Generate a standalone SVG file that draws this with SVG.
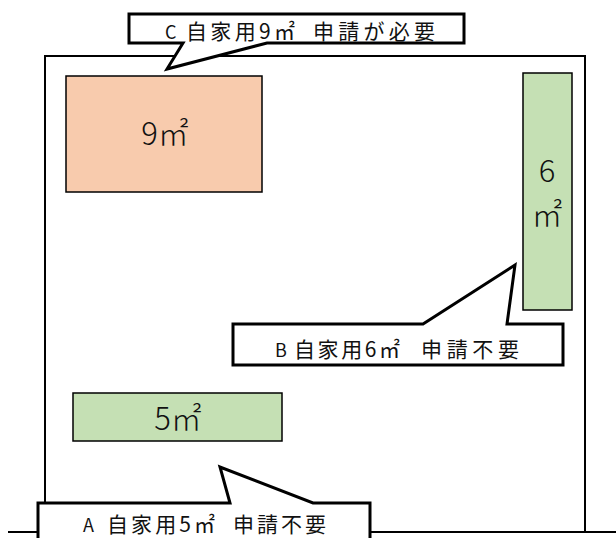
<svg xmlns="http://www.w3.org/2000/svg" width="616" height="538" viewBox="0 0 616 538">
<style>
.frame{fill:none;stroke:#000;stroke-width:2}
.call{fill:#fff;stroke:#000;stroke-width:3;stroke-linejoin:miter}
.area{stroke:#000;stroke-width:1.5}
.t{font-family:"Noto Sans CJK JP","Noto Sans",sans-serif;fill:#111}
.lbl{font-size:21px}
.lat{font-size:18px}
.big{font-size:31px;font-weight:300}
</style>
<rect width="616" height="538" fill="#fff"/>
<g id="frame">
<path class="frame" d="M45,532 V56 H585 V533"/>
<path class="frame" d="M8,532 H616"/>
</g>
<g id="area-c">
<rect class="area" x="66" y="76" width="196" height="116" fill="#F8CBAD"/>
<text class="t big" x="165" y="145" text-anchor="middle">9㎡</text>
</g>
<g id="area-b">
<rect class="area" x="523" y="73" width="49" height="237" fill="#C5E0B4"/>
<text class="t big" x="547" y="182" text-anchor="middle">6</text>
<text class="t big" x="547" y="226" text-anchor="middle">㎡</text>
</g>
<g id="area-a">
<rect class="area" x="73" y="393" width="209" height="48" fill="#C5E0B4"/>
<text class="t big" x="178" y="430" text-anchor="middle">5㎡</text>
</g>
<g id="connectors">
<path class="call" d="M129,14 H464 V43 H267 L167,69 L183,43 H129 Z"/>
<path class="call" d="M233,324 H423 L515,265 L507,324 H563 V365 H233 Z"/>
<path class="call" d="M38,503 H230 L220,467 L313,503 H370 V545 H38 Z"/>
</g>
<g id="callout-c">
<text class="t lbl" y="39"><tspan class="lat" x="165">C</tspan><tspan x="186" textLength="109" lengthAdjust="spacing">自家用9㎡</tspan><tspan x="313" textLength="122" lengthAdjust="spacing">申請が必要</tspan></text>
</g>
<g id="callout-b">
<text class="t lbl" y="357"><tspan class="lat" x="275">B</tspan><tspan x="294" textLength="106" lengthAdjust="spacing">自家用6㎡</tspan><tspan x="421" textLength="98" lengthAdjust="spacing">申請不要</tspan></text>
</g>
<g id="callout-a">
<text class="t lbl" y="532"><tspan class="lat" x="83">A</tspan><tspan x="107" textLength="108" lengthAdjust="spacing">自家用5㎡</tspan><tspan x="233" textLength="93" lengthAdjust="spacing">申請不要</tspan></text>
</g>
</svg>
